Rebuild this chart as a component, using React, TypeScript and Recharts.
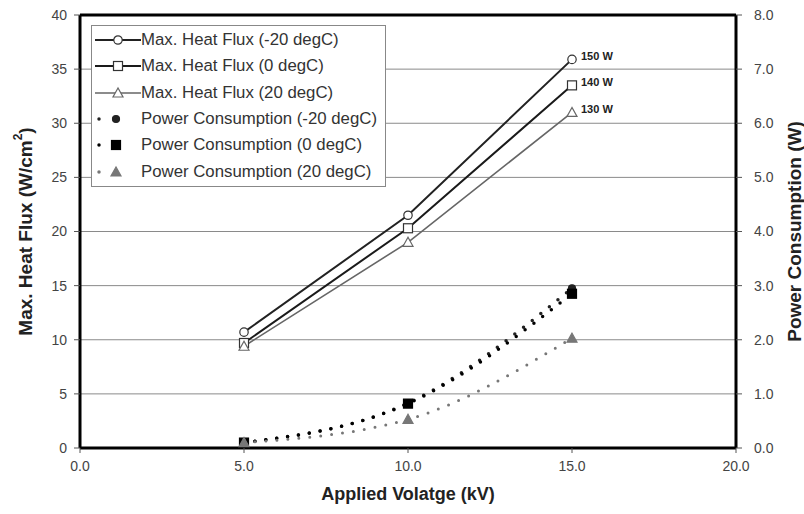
import React from 'react';
import {
  ComposedChart,
  Line,
  XAxis,
  YAxis,
  CartesianGrid,
  ReferenceLine,
  Legend,
  LabelList,
  Label,
} from 'recharts';

// Applied voltage (kV) at each measurement
const voltageKV = [5, 10, 15];

// Maximum heat flux (W/cm²) per coolant temperature
const heatFluxMinus20 = [10.7, 21.5, 35.9];
const heatFlux0 = [9.7, 20.3, 33.5];
const heatFlux20 = [9.4, 19.0, 31.0];

// Power consumption (W) per coolant temperature
const powerMinus20 = [0.1, 0.83, 2.95];
const power0 = [0.1, 0.82, 2.85];
const power20 = [0.1, 0.53, 2.03];

// Input power notes shown next to the 15 kV heat-flux points
const inputPowerNotes = ['150 W', '140 W', '130 W'];

const xTicks = [0, 5, 10, 15, 20];
const fluxTicks = [0, 5, 10, 15, 20, 25, 30, 35, 40];
const powerTicks = [0, 1, 2, 3, 4, 5, 6, 7, 8];

const FONT = '"Liberation Sans", Arial, sans-serif';

const rows = voltageKV.map((kv, i) => ({
  kv,
  hfM20: heatFluxMinus20[i],
  hf0: heatFlux0[i],
  hf20: heatFlux20[i],
  pwM20: powerMinus20[i],
  pw0: power0[i],
  pw20: power20[i],
}));

type Shape = 'circle' | 'square' | 'triangle';

interface SeriesDef {
  key: string;
  name: string;
  axis: 'flux' | 'power';
  color: string;
  width: number;
  shape: Shape;
  filled: boolean;
  dotted: boolean;
}

const series: SeriesDef[] = [
  { key: 'hfM20', name: 'Max. Heat Flux (-20 degC)', axis: 'flux', color: '#222', width: 2, shape: 'circle', filled: false, dotted: false },
  { key: 'hf0', name: 'Max. Heat Flux (0 degC)', axis: 'flux', color: '#1a1a1a', width: 2, shape: 'square', filled: false, dotted: false },
  { key: 'hf20', name: 'Max. Heat Flux (20 degC)', axis: 'flux', color: '#666', width: 1.6, shape: 'triangle', filled: false, dotted: false },
  { key: 'pwM20', name: 'Power Consumption (-20 degC)', axis: 'power', color: '#222', width: 3.5, shape: 'circle', filled: true, dotted: true },
  { key: 'pw0', name: 'Power Consumption (0 degC)', axis: 'power', color: '#000', width: 3.5, shape: 'square', filled: true, dotted: true },
  { key: 'pw20', name: 'Power Consumption (20 degC)', axis: 'power', color: '#777', width: 3, shape: 'triangle', filled: true, dotted: true },
];

function Marker({ cx, cy, s }: { cx: number; cy: number; s: SeriesDef }) {
  const fill = s.filled ? s.color : '#fff';
  const stroke = s.filled ? s.color : '#333';
  if (s.shape === 'circle') {
    return <circle cx={cx} cy={cy} r={s.filled ? 3.5 : 4.2} fill={fill} stroke={stroke} strokeWidth={1.2} />;
  }
  if (s.shape === 'square') {
    const h = 4.5;
    return <rect x={cx - h} y={cy - h} width={h * 2} height={h * 2} fill={fill} stroke={stroke} strokeWidth={1.2} />;
  }
  return (
    <polygon
      points={`${cx},${cy - 5} ${cx - 5},${cy + 4} ${cx + 5},${cy + 4}`}
      fill={fill}
      stroke={s.filled ? s.color : '#666'}
      strokeWidth={1.2}
    />
  );
}

const makeDot = (s: SeriesDef) => (props: any) => {
  const { cx, cy, index } = props;
  if (cx == null || cy == null) return <g key={`${s.key}-${index}`} />;
  return (
    <g key={`${s.key}-${index}`}>
      <Marker cx={cx} cy={cy} s={s} />
    </g>
  );
};

const makeNote = (noteIndex: number) => (props: any) => {
  const { index } = props;
  if (index !== voltageKV.length - 1) return null;
  const x = props.x ?? props.viewBox?.x;
  const y = props.y ?? props.viewBox?.y;
  return (
    <text
      x={x + 9}
      y={y - 3}
      fontFamily={FONT}
      fontSize={11}
      fontWeight="bold"
      fill="#222"
      dominantBaseline="central"
    >
      {inputPowerNotes[noteIndex]}
    </text>
  );
};

function LegendBox() {
  return (
    <div
      style={{
        border: '1px solid #888',
        background: '#fff',
        padding: '1px 0 1px 3px',
        width: 290,
        fontFamily: FONT,
        fontSize: 16.8,
        color: '#333',
      }}
    >
      {series.map((s) => (
        <div key={s.key} style={{ display: 'flex', alignItems: 'center', height: 26.3 }}>
          <svg width={46} height={20} style={{ flex: 'none' }}>
            {s.dotted ? (
              <line x1={4} x2={38} y1={10} y2={10} stroke={s.color} strokeWidth={3.5} strokeDasharray="0 34" strokeLinecap="round" />
            ) : (
              <line x1={0} x2={46} y1={10} y2={10} stroke={s.color} strokeWidth={s.width} />
            )}
            <Marker cx={s.dotted ? 21 : 23} cy={10} s={s} />
          </svg>
          <span style={{ whiteSpace: 'nowrap' }}>{s.name}</span>
        </div>
      ))}
    </div>
  );
}

const tickStyle = { fill: '#444', fontSize: 14, fontFamily: FONT };
const axisLineStyle = { stroke: '#000', strokeWidth: 3 };

export default function App() {
  return (
    <div style={{ position: 'absolute', left: 0, top: 0, background: '#fff' }}>
      <ComposedChart
        width={804}
        height={514}
        data={rows}
        margin={{ top: 15, right: 0, bottom: 0, left: 0 }}
      >
        <CartesianGrid yAxisId="flux" vertical={false} stroke="#8a8a8a" strokeWidth={1} />
        <XAxis
          dataKey="kv"
          type="number"
          domain={[0, 20]}
          ticks={xTicks}
          tickFormatter={(v: number) => v.toFixed(1)}
          height={66}
          tick={tickStyle}
          tickSize={5}
          tickMargin={8}
          tickLine={{ stroke: '#555' }}
          axisLine={axisLineStyle}
          allowDataOverflow
        >
          <Label
            content={(p: any) => {
              const vb = p.viewBox;
              return (
                <text
                  x={vb.x + vb.width / 2}
                  y={vb.y + 46}
                  textAnchor="middle"
                  dominantBaseline="central"
                  fontFamily={FONT}
                  fontSize={18}
                  fontWeight="bold"
                  fill="#222"
                >
                  Applied Volatge (kV)
                </text>
              );
            }}
          />
        </XAxis>
        <YAxis
          yAxisId="flux"
          domain={[0, 40]}
          ticks={fluxTicks}
          width={80}
          tick={tickStyle}
          tickSize={6}
          tickMargin={7}
          tickLine={{ stroke: '#555' }}
          axisLine={axisLineStyle}
        >
          <Label
            content={(p: any) => {
              const vb = p.viewBox;
              const cx = vb.x + 25;
              const cy = vb.y + vb.height / 2;
              return (
                <text
                  x={cx}
                  y={cy}
                  transform={`rotate(-90 ${cx} ${cy})`}
                  textAnchor="middle"
                  dominantBaseline="central"
                  fontFamily={FONT}
                  fontSize={19}
                  fontWeight="bold"
                  fill="#222"
                >
                  Max. Heat Flux (W/cm
                  <tspan dy={-7} fontSize={12}>2</tspan>
                  <tspan dy={7}>)</tspan>
                </text>
              );
            }}
          />
        </YAxis>
        <YAxis
          yAxisId="power"
          orientation="right"
          domain={[0, 8]}
          ticks={powerTicks}
          tickFormatter={(v: number) => v.toFixed(1)}
          width={68}
          tick={tickStyle}
          tickSize={6}
          tickMargin={12}
          tickLine={{ stroke: '#555' }}
          axisLine={axisLineStyle}
        >
          <Label
            content={(p: any) => {
              const vb = p.viewBox;
              const cx = vb.x + 58;
              const cy = vb.y + vb.height / 2;
              return (
                <text
                  x={cx}
                  y={cy}
                  transform={`rotate(-90 ${cx} ${cy})`}
                  textAnchor="middle"
                  dominantBaseline="central"
                  fontFamily={FONT}
                  fontSize={19}
                  fontWeight="bold"
                  fill="#222"
                >
                  Power Consumption (W)
                </text>
              );
            }}
          />
        </YAxis>
        <ReferenceLine yAxisId="flux" y={40} stroke="#000" strokeWidth={3} />

        {series.map((s, i) => (
          <Line
            key={s.key}
            yAxisId={s.axis}
            dataKey={s.key}
            name={s.name}
            type={s.dotted ? 'monotone' : 'linear'}
            stroke={s.color}
            strokeWidth={s.width}
            strokeDasharray={s.dotted ? '0 11' : undefined}
            strokeLinecap={s.dotted ? 'round' : 'butt'}
            dot={makeDot(s)}
            activeDot={false}
            isAnimationActive={false}
          >
            {!s.dotted && <LabelList dataKey={s.key} content={makeNote(i)} />}
          </Line>
        ))}

        <Legend
          layout="vertical"
          align="center"
          verticalAlign="middle"
          content={() => <LegendBox />}
          wrapperStyle={{ left: 91, top: 25, width: 'auto', height: 'auto' }}
        />
      </ComposedChart>
    </div>
  );
}
